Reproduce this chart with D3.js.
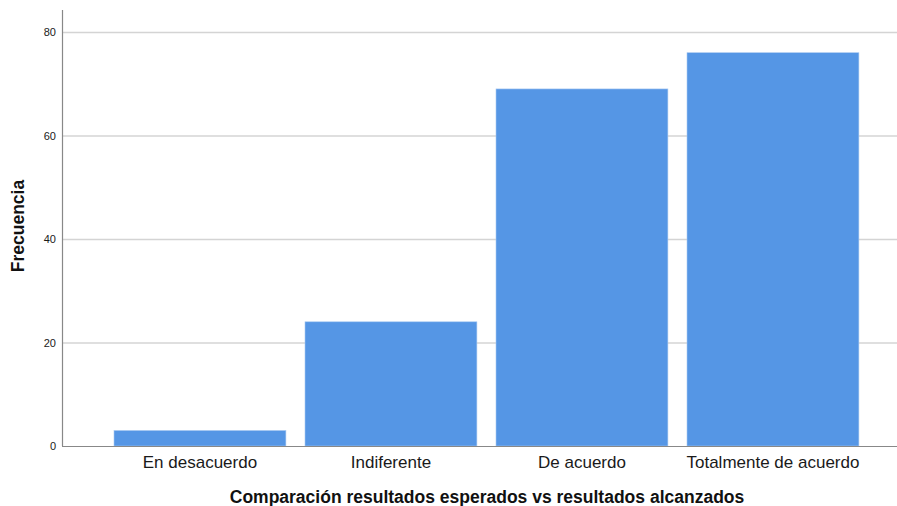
<!DOCTYPE html>
<html><head><meta charset="utf-8">
<script src="https://cdn.jsdelivr.net/npm/d3@7"></script>
<style>body{margin:0;background:#fff}svg{display:block}text{font-family:"Liberation Sans",Arial,sans-serif}</style>
</head><body><svg id="c" width="897" height="506"></svg>
<script>
const categories = ["En desacuerdo","Indiferente","De acuerdo","Totalmente de acuerdo"];
const values = [3,24,69,76];
const yTicks = [0,20,40,60,80];
const xTitle = "Comparación resultados esperados vs resultados alcanzados";
const yTitle = "Frecuencia";

const svg = d3.select("#c");
const y = d3.scaleLinear().domain([0,80]).range([446,32]);
const x = d3.scaleBand().domain(categories).range([104.45,868.45]).paddingInner(0.1).paddingOuter(0.05);

// gridlines
svg.append("g").selectAll("line").data(yTicks.filter(d=>d>0)).join("line")
  .attr("x1",62).attr("x2",897).attr("y1",d=>y(d)+0.5).attr("y2",d=>y(d)+0.5)
  .attr("stroke","#d4d4d4").attr("stroke-width",1.5);

// bars
svg.append("g").selectAll("rect").data(values).join("rect")
  .attr("x",(d,i)=>x(categories[i])).attr("width",x.bandwidth())
  .attr("y",d=>y(d)).attr("height",d=>y(0)-y(d))
  .attr("fill","#5596e5").attr("stroke","#a9c9f1").attr("stroke-width",0.6);

// y axis
const ya = svg.append("g").attr("transform","translate(62,0)")
  .call(d3.axisLeft(y).tickValues(yTicks).tickSize(0).tickPadding(6).tickFormat(d3.format("d")));
ya.select(".domain").remove();
ya.selectAll("text").attr("font-size",11).attr("fill","#1a1a1a").attr("font-family","Liberation Sans, Arial, sans-serif");
svg.append("line").attr("x1",62.5).attr("x2",62.5).attr("y1",10).attr("y2",446).attr("stroke","#888").attr("stroke-width",1.2);

// x axis
const xa = svg.append("g").attr("transform","translate(0,446)")
  .call(d3.axisBottom(x).tickSize(0).tickPadding(10));
xa.select(".domain").remove();
xa.selectAll("text").attr("font-size",17).attr("fill","#1a1a1a").attr("font-family","Liberation Sans, Arial, sans-serif");
svg.append("line").attr("x1",62).attr("x2",897).attr("y1",446.5).attr("y2",446.5).attr("stroke","#888").attr("stroke-width",1.2);

// titles
svg.append("text").attr("x",487).attr("y",503).attr("text-anchor","middle")
  .attr("font-size",17.5).attr("font-weight","bold").attr("fill","#111").text(xTitle);
svg.append("text").attr("transform","translate(24,226) rotate(-90)").attr("text-anchor","middle")
  .attr("font-size",17.5).attr("font-weight","bold").attr("fill","#111").text(yTitle);
</script></body></html>
